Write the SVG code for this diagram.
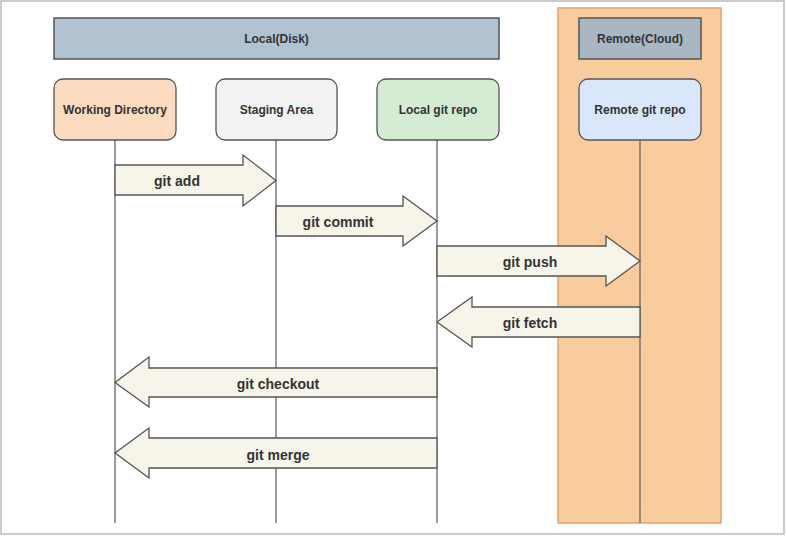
<svg xmlns="http://www.w3.org/2000/svg" width="786" height="537" viewBox="0 0 786 537">
<style>
  .lbl { font-family: "Liberation Sans", Arial, sans-serif; font-weight: bold; font-size: 12px; fill: #333; text-anchor: middle; dominant-baseline: central; }
  .albl { font-family: "Liberation Sans", Arial, sans-serif; font-weight: bold; font-size: 14px; fill: #333; text-anchor: middle; dominant-baseline: central; }
  .node { stroke: #555; stroke-width: 1.3; }
  .hdr { stroke: #555; stroke-width: 1.5; }
  .life { stroke: #666; stroke-width: 1.3; fill: none; }
  .arrow { fill: #f7f5ea; stroke: #555; stroke-width: 1.3; }
</style>
<rect x="0" y="0" width="786" height="537" fill="#fff"/>
<rect x="1" y="1" width="783" height="533" fill="none" stroke="#bbb" stroke-width="1.5"/>

<g id="remote-container">
  <rect x="558" y="8" width="163" height="515" fill="#f9cc9e" stroke="#e0a46a" stroke-width="1.5"/>
</g>

<g id="local-header">
  <rect class="hdr" x="54" y="18" width="445" height="41" fill="#b1c3d1"/>
  <text class="lbl" x="276.5" y="39">Local(Disk)</text>
</g>
<g id="remote-header">
  <rect class="hdr" x="579" y="18" width="122" height="41" fill="#a9b7c3"/>
  <text class="lbl" x="640" y="39">Remote(Cloud)</text>
</g>

<g id="connectors">
  <line class="life" x1="115" y1="140" x2="115" y2="523"/>
  <line class="life" x1="276" y1="140" x2="276" y2="523"/>
  <line class="life" x1="437" y1="140" x2="437" y2="523"/>
  <line class="life" x1="640" y1="140" x2="640" y2="523" stroke="#8a6a50"/>
</g>

<g id="working-directory">
  <rect class="node" x="54" y="79" width="122" height="61" rx="9" fill="#fbdcc0"/>
  <text class="lbl" x="115" y="110">Working Directory</text>
</g>
<g id="staging-area">
  <rect class="node" x="216" y="79" width="121" height="61" rx="9" fill="#f2f2f2"/>
  <text class="lbl" x="276.5" y="110" fill="#444">Staging Area</text>
</g>
<g id="local-git-repo">
  <rect class="node" x="377" y="79" width="122" height="61" rx="9" fill="#d6ebd3"/>
  <text class="lbl" x="438" y="110">Local git repo</text>
</g>
<g id="remote-git-repo">
  <rect class="node" x="579" y="79" width="122" height="61" rx="9" fill="#dae7fa"/>
  <text class="lbl" x="640" y="110">Remote git repo</text>
</g>

<g id="git-add">
  <path class="arrow" d="M115,165 H243 V155 L276,180.5 L243,206 V195 H115 Z"/>
  <text class="albl" x="177" y="181">git add</text>
</g>
<g id="git-commit">
  <path class="arrow" d="M276,206 H403 V196 L437,221 L403,246 V236 H276 Z"/>
  <text class="albl" x="338" y="222">git commit</text>
</g>
<g id="git-push">
  <path class="arrow" d="M437,246 H606 V236 L640,261 L606,286 V276 H437 Z"/>
  <text class="albl" x="530" y="262">git push</text>
</g>
<g id="git-fetch">
  <path class="arrow" d="M640,307 H472 V297 L437,322 L472,347 V337 H640 Z"/>
  <text class="albl" x="530" y="323">git fetch</text>
</g>
<g id="git-checkout">
  <path class="arrow" d="M437,368 H149 V357 L115,382.5 L149,407 V397 H437 Z"/>
  <text class="albl" x="278" y="384">git checkout</text>
</g>
<g id="git-merge">
  <path class="arrow" d="M437,438 H149 V428 L115,453 L149,478 V468 H437 Z"/>
  <text class="albl" x="278" y="455">git merge</text>
</g>
</svg>
